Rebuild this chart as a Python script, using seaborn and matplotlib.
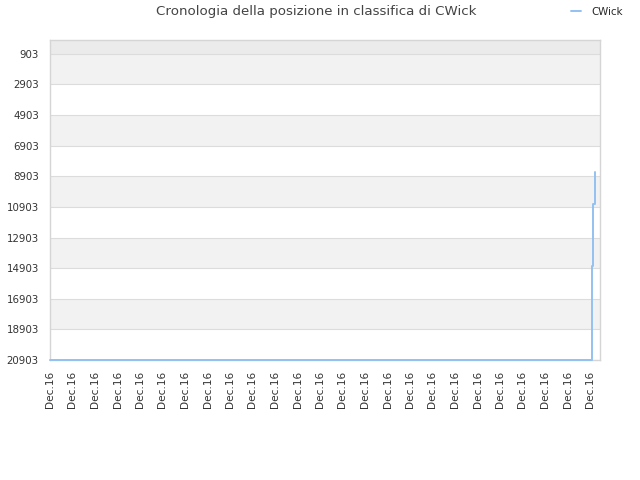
import numpy as np
import pandas as pd
import matplotlib
matplotlib.use("Agg")
import matplotlib.pyplot as plt
import seaborn as sns

# data
player = "CWick"
day = [0.0, 24.076, 24.10, 24.14, 24.22]
rank = [20903, 18903, 14760, 10700, 8600]
y_ticks = [903, 2903, 4903, 6903, 8903, 10903, 12903, 14903, 16903, 18903, 20903]
x_ticks = list(range(25))
x_labels = ["Dec.16"] * 25

df = pd.DataFrame({"day": day, "rank": rank, "name": player})

sns.set_style("white")
plt.rcParams['font.family'] = ['DejaVu Sans']

fig = plt.figure(figsize=(6.4, 4.8), dpi=100)
ax = fig.add_axes([50 / 640, 1 - 360 / 480, 550 / 640, 320 / 480])

# alternating bands
ax.axhspan(0, 903, color="#ebebeb", zorder=0, lw=0)
for i in range(len(y_ticks) - 1):
    if i % 2 == 0:
        ax.axhspan(y_ticks[i], y_ticks[i + 1], color="#f2f2f2", zorder=0, lw=0)
for t in y_ticks:
    ax.axhline(t, color="#dcdcdc", lw=0.8, zorder=1)

sns.lineplot(data=df, x="day", y="rank", ax=ax, color="#94c1f2", lw=1.4,
             drawstyle="steps-post", label=player, zorder=3, clip_on=False)

ax.set_xlim(0, 550 / 22.5)
ax.set_ylim(20903, 0)
ax.set_yticks(y_ticks)
ax.set_yticklabels([str(t) for t in y_ticks], fontsize=7.4, color="#333333")
ax.set_xticks(x_ticks)
ax.set_xticklabels(x_labels, rotation=90, fontsize=7.6, color="#333333")
ax.tick_params(axis="y", length=0, pad=8)
ax.tick_params(axis="x", length=0, pad=8)
ax.set_xlabel("")
ax.set_ylabel("")
for s in ax.spines.values():
    s.set_color("#d5d5d5")
    s.set_linewidth(1)

fig.text(316 / 640, 1 - 12 / 480, "Cronologia della posizione in classifica di CWick",
         ha="center", va="center", fontsize=9.6, color="#444444")
ax.legend(loc="center", bbox_to_anchor=(597 / 640, 1 - 12 / 480), bbox_transform=fig.transFigure,
          frameon=False, fontsize=7.4, handlelength=1, handletextpad=1)

fig.savefig("out.png", dpi=100)
